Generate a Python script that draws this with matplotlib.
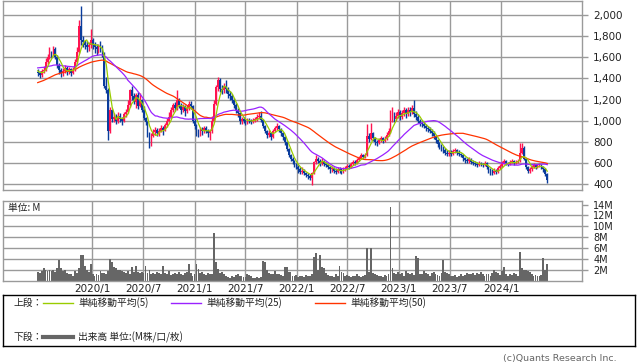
import numpy as np
import pandas as pd
import matplotlib
matplotlib.use('Agg')
import matplotlib.pyplot as plt

W, H = 638, 362

# weekly candles (first week ending 2019-06-21)
start = '2019-06-21'
opens = [
    1460, 1450, 1430, 1470, 1480, 1560, 1600, 1640, 1620, 1680,
    1600, 1530, 1480, 1450, 1470, 1500, 1460, 1490, 1450, 1480,
    1560, 1650, 1900, 1760, 1740, 1720, 1700, 1720, 1760, 1720,
    1700, 1680, 1700, 1690, 1640, 1330, 1290, 900, 1100, 1020,
    1040, 1000, 1050, 1020, 1000, 1060, 1080, 1150, 1290, 1230,
    1180, 1240, 1140, 1200, 1100, 1030, 990, 880, 780, 860,
    890, 910, 880, 900, 930, 910, 960, 1000, 1040, 1100,
    1150, 1120, 1200, 1150, 1100, 1130, 1090, 1120, 1160, 1140,
    1000, 950, 900, 880, 920, 900, 930, 900, 880, 900,
    1000, 1160, 1320, 1390, 1300, 1290, 1330, 1300, 1250, 1230,
    1200, 1150, 1100, 1070, 1000, 1020, 1000, 990, 1010, 1000,
    990, 1010, 1020, 1040, 1050, 1010, 950, 900, 870, 880,
    850, 900, 930, 950, 920, 880, 850, 800, 730, 680,
    640, 620, 580, 560, 540, 520, 530, 510, 490, 480,
    460, 510, 610, 640, 620, 600, 620, 590, 580, 560,
    540, 550, 530, 520, 540, 530, 520, 540, 550, 570,
    560, 590, 610, 600, 630, 650, 680, 660, 680, 860,
    830, 880, 840, 800, 790, 820, 840, 810, 830, 870,
    900, 1000, 1060, 1020, 1050, 1080, 1040, 1070, 1100, 1060,
    1100, 1080, 1120, 1060, 1040, 1000, 980, 970, 950, 930,
    920, 900, 880, 860, 820, 780, 760, 740, 720, 700,
    690, 700, 690, 710, 720, 700, 690, 680, 650, 630,
    620, 640, 610, 600, 590, 580, 600, 590, 580, 600,
    560, 540, 520, 510, 530, 520, 550, 570, 600, 620,
    600, 590, 610, 620, 600, 610, 620, 700, 740, 640,
    560, 530, 540, 560, 580, 560, 570, 580, 560, 540,
    500,
]
closes = [
    1450, 1430, 1470, 1480, 1560, 1600, 1640, 1620, 1680, 1600,
    1530, 1480, 1450, 1470, 1500, 1460, 1490, 1450, 1480, 1560,
    1650, 1900, 1760, 1740, 1720, 1700, 1720, 1760, 1720, 1700,
    1680, 1700, 1690, 1640, 1330, 1290, 900, 1100, 1020, 1040,
    1000, 1050, 1020, 1000, 1060, 1080, 1150, 1290, 1230, 1180,
    1240, 1140, 1200, 1100, 1030, 990, 880, 780, 860, 890,
    910, 880, 900, 930, 910, 960, 1000, 1040, 1100, 1150,
    1120, 1200, 1150, 1100, 1130, 1090, 1120, 1160, 1140, 1000,
    950, 900, 880, 920, 900, 930, 900, 880, 900, 1000,
    1160, 1320, 1390, 1300, 1290, 1330, 1300, 1250, 1230, 1200,
    1150, 1100, 1070, 1000, 1020, 1000, 990, 1010, 1000, 990,
    1010, 1020, 1040, 1050, 1010, 950, 900, 870, 880, 850,
    900, 930, 950, 920, 880, 850, 800, 730, 680, 640,
    620, 580, 560, 540, 520, 530, 510, 490, 480, 460,
    510, 610, 640, 620, 600, 620, 590, 580, 560, 540,
    550, 530, 520, 540, 530, 520, 540, 550, 570, 560,
    590, 610, 600, 630, 650, 680, 660, 680, 860, 830,
    880, 840, 800, 790, 820, 840, 810, 830, 870, 900,
    1000, 1060, 1020, 1050, 1080, 1040, 1070, 1100, 1060, 1100,
    1080, 1120, 1060, 1040, 1000, 980, 970, 950, 930, 920,
    900, 880, 860, 820, 780, 760, 740, 720, 700, 690,
    700, 690, 710, 720, 700, 690, 680, 650, 630, 620,
    640, 610, 600, 590, 580, 600, 590, 580, 600, 560,
    540, 520, 510, 530, 520, 550, 570, 600, 620, 600,
    590, 610, 620, 600, 610, 620, 700, 740, 640, 560,
    530, 540, 560, 580, 560, 570, 580, 560, 540, 500,
    440,
]
highs = [
    1490, 1470, 1490, 1520, 1590, 1630, 1700, 1660, 1710, 1700,
    1620, 1550, 1500, 1500, 1530, 1520, 1510, 1500, 1510, 1580,
    1700, 1950, 2085, 1800, 1760, 1750, 1740, 1870, 1780, 1740,
    1730, 1730, 1750, 1720, 1650, 1410, 1310, 1130, 1110, 1070,
    1060, 1080, 1070, 1040, 1080, 1110, 1200, 1300, 1330, 1260,
    1260, 1270, 1260, 1210, 1140, 1040, 1000, 890, 880, 920,
    940, 930, 930, 960, 950, 980, 1030, 1080, 1130, 1170,
    1180, 1290, 1220, 1170, 1160, 1150, 1150, 1190, 1190, 1150,
    1020, 970, 920, 940, 940, 950, 950, 920, 920, 1050,
    1200, 1340, 1415, 1400, 1340, 1360, 1385, 1320, 1280, 1250,
    1220, 1170, 1120, 1080, 1040, 1040, 1020, 1030, 1030, 1020,
    1030, 1040, 1060, 1080, 1090, 1020, 960, 910, 910, 890,
    920, 950, 980, 960, 930, 890, 860, 810, 740, 690,
    660, 630, 600, 580, 560, 560, 540, 520, 510, 500,
    520, 620, 675, 660, 640, 650, 630, 610, 590, 570,
    570, 560, 550, 560, 560, 550, 560, 570, 590, 590,
    610, 630, 630, 650, 670, 695, 690, 700, 970, 880,
    980, 890, 850, 820, 840, 860, 850, 860, 890, 930,
    1100, 1130, 1080, 1080, 1110, 1100, 1100, 1130, 1120, 1130,
    1130, 1150, 1195, 1090, 1060, 1020, 1000, 990, 970, 950,
    940, 920, 900, 870, 830, 800, 780, 760, 740, 720,
    720, 720, 730, 740, 730, 720, 700, 690, 660, 650,
    660, 650, 630, 620, 610, 620, 610, 600, 620, 610,
    570, 550, 540, 550, 540, 570, 590, 620, 640, 630,
    610, 630, 640, 630, 630, 640, 790, 790, 760, 650,
    570, 560, 580, 600, 590, 590, 600, 590, 570, 550,
    510,
]
lows = [
    1420, 1400, 1410, 1450, 1470, 1540, 1580, 1590, 1610, 1580,
    1500, 1440, 1410, 1420, 1450, 1430, 1440, 1420, 1440, 1470,
    1550, 1640, 1720, 1700, 1680, 1650, 1660, 1690, 1680, 1640,
    1620, 1640, 1650, 1600, 1310, 1260, 820, 880, 990, 990,
    970, 980, 990, 960, 990, 1040, 1070, 1130, 1200, 1160,
    1120, 1110, 1130, 1080, 1010, 960, 850, 745, 760, 850,
    870, 860, 860, 890, 870, 900, 940, 990, 1030, 1080,
    1090, 1100, 1120, 1060, 1080, 1050, 1070, 1100, 1110, 980,
    920, 860, 850, 860, 870, 880, 880, 850, 820, 880,
    990, 1150, 1280, 1270, 1250, 1260, 1260, 1220, 1200, 1170,
    1120, 1070, 1040, 970, 970, 980, 960, 970, 980, 970,
    980, 990, 1000, 1020, 990, 930, 880, 840, 850, 820,
    840, 890, 910, 890, 860, 820, 770, 710, 660, 620,
    590, 560, 540, 510, 500, 500, 490, 470, 450, 440,
    395, 500, 590, 600, 570, 580, 570, 560, 540, 510,
    520, 510, 500, 505, 510, 500, 510, 525, 540, 540,
    550, 580, 580, 590, 620, 640, 640, 650, 670, 800,
    820, 810, 770, 760, 780, 800, 790, 800, 820, 860,
    880, 990, 990, 1000, 1030, 1010, 1020, 1050, 1030, 1050,
    1050, 1060, 1040, 1010, 980, 950, 940, 930, 900, 890,
    880, 860, 830, 790, 750, 730, 710, 700, 680, 670,
    670, 670, 680, 700, 680, 670, 660, 620, 600, 600,
    600, 590, 580, 570, 560, 570, 570, 560, 570, 540,
    510, 490, 490, 500, 500, 510, 540, 560, 590, 580,
    570, 580, 600, 580, 590, 600, 610, 690, 630, 540,
    505, 510, 530, 550, 540, 550, 560, 540, 520, 480,
    410,
]
# weekly volume, M shares
volumes = [
    1.6, 1.5, 1.8, 2.4, 2.0, 1.9, 2.1, 1.8, 2.0, 1.6,
    2.3, 3.8, 2.4, 1.9, 2.0, 1.5, 1.2, 1.3, 1.0, 1.9,
    1.5, 2.4, 4.8, 4.8, 2.8, 2.0, 1.6, 3.2, 1.2, 1.0,
    1.3, 1.1, 1.8, 1.4, 1.5, 1.2, 1.8, 4.0, 3.4, 2.6,
    2.4, 2.0, 2.1, 1.8, 1.6, 1.5, 1.8, 1.3, 2.6, 1.7,
    2.8, 1.6, 1.4, 1.6, 1.5, 2.7, 1.5, 2.0, 1.2, 1.4,
    1.3, 1.6, 1.4, 1.2, 2.8, 1.5, 1.3, 1.8, 1.1, 1.2,
    1.5, 1.3, 1.6, 1.2, 1.1, 1.4, 1.7, 3.1, 1.5, 0.9,
    1.2, 3.2, 2.2, 1.4, 1.7, 1.2, 1.1, 1.5, 1.3, 1.2,
    8.8, 3.4, 2.2, 1.5, 1.6, 1.3, 1.0, 0.7, 0.6, 0.9,
    0.8, 1.1, 1.3, 0.9, 1.0, 0.8, 0.7, 1.2, 1.1, 0.9,
    0.6, 0.5, 0.7, 0.6, 0.7, 3.6, 3.4, 2.0, 1.4, 1.3,
    1.2, 1.8, 1.2, 1.3, 1.1, 1.0, 2.6, 2.6, 1.7, 1.6,
    1.0, 0.9, 1.1, 0.8, 1.0, 0.9, 0.8, 1.1, 0.9, 1.0,
    1.2, 4.4, 5.1, 2.0, 4.7, 2.6, 2.4, 1.5, 1.1, 0.9,
    1.0, 0.8, 1.2, 1.0, 2.7, 1.6, 1.4, 0.9, 1.1, 1.0,
    0.8, 1.0, 0.9, 1.2, 1.0, 0.8, 0.9, 1.1, 6.1, 1.6,
    6.1, 1.5, 1.2, 1.1, 0.9, 1.0, 0.8, 1.1, 1.0, 1.2,
    13.5, 2.4, 1.5, 1.2, 1.6, 1.3, 1.5, 1.0, 1.8, 1.4,
    1.2, 1.5, 1.1, 4.5, 4.3, 1.3, 1.2, 1.8, 1.5, 1.3,
    1.0, 1.4, 1.6, 1.3, 1.1, 1.0, 1.4, 3.9, 1.7, 1.5,
    1.3, 1.0, 0.9, 1.1, 0.8, 1.0, 1.2, 0.9, 1.1, 1.4,
    1.3, 1.2, 1.5, 1.1, 1.4, 1.2, 1.6, 1.3, 1.0, 1.2,
    1.3, 1.0, 1.5, 2.0, 1.7, 1.4, 1.1, 1.9, 2.6, 1.2,
    1.0, 1.3, 1.1, 1.5, 1.2, 1.0, 5.3, 2.4, 2.0, 2.1,
    1.8, 1.6, 1.2, 1.0, 1.1, 0.9, 1.0, 1.1, 4.2, 2.0,
    3.1,
]
# closes of the 49 weeks before the first candle, used only for the averages
pre_closes = [
    1100, 1120, 1150, 1130, 1160, 1180, 1150, 1170, 1200, 1220,
    1190, 1210, 1230, 1250, 1220, 1240, 1260, 1280, 1250, 1270,
    1290, 1300, 1320, 1310, 1340,
    1380, 1420, 1460, 1500, 1480, 1520, 1550, 1530, 1560, 1540,
    1520, 1550, 1530, 1510, 1540, 1520, 1500, 1530, 1510, 1490,
    1500, 1480, 1470, 1460,
]
grid_dates = ['2020-01-01', '2020-07-01', '2021-01-01', '2021-07-01', '2022-01-01',
              '2022-07-01', '2023-01-01', '2023-07-01', '2024-01-01']
grid_labels = ['2020/1', '2020/7', '2021/1', '2021/7', '2022/1',
               '2022/7', '2023/1', '2023/7', '2024/1']
price_ticks = [400, 600, 800, 1000, 1200, 1400, 1600, 1800, 2000]
vol_ticks = [2, 4, 6, 8, 10, 12, 14]

RED = '#ff1450'
BLUE = '#0a3c9c'
GRID = '#9a9a9a'
CJK = ['Noto Sans CJK JP', 'DejaVu Sans']

dates = pd.date_range(start, periods=len(closes), freq='7D')
o = np.array(opens, float)
c = np.array(closes, float)
hi = np.array(highs, float)
lo = np.array(lows, float)
cols = np.where(c >= o, RED, BLUE)

allc = pd.Series(pre_closes + closes, dtype=float)
n0 = len(pre_closes)
ma5 = allc.rolling(5).mean().values[n0:]
ma25 = allc.rolling(25).mean().values[n0:]
ma50 = allc.rolling(50).mean().values[n0:]


def box(l, t, r, b):
    return [l / W, (H - b) / H, (r - l) / W, (b - t) / H]


fig = plt.figure(figsize=(W / 100, H / 100), dpi=100)
fig.patch.set_facecolor('white')

x0 = pd.Timestamp('2019-02-17')
x1 = pd.Timestamp('2024-10-16')
gd = pd.to_datetime(grid_dates)

# price panel
ax = fig.add_axes(box(3, 1, 582, 190))
ax.vlines(dates, lo, hi, colors=cols, lw=1.0, zorder=2)
ax.bar(dates, np.maximum(np.abs(c - o), 8), bottom=np.minimum(o, c), width=6.3,
       color=cols, linewidth=0, zorder=2)
ax.plot(dates, ma50, color='#ff3300', lw=0.9, zorder=3)
ax.plot(dates, ma25, color='#9a22ff', lw=0.9, zorder=3)
ax.plot(dates, ma5, color='#99cc00', lw=0.9, zorder=4)
ax.set_xlim(x0, x1)
ax.set_ylim(346, 2132)
ax.set_yticks(price_ticks)
ax.set_yticklabels([f'{v:,}' for v in price_ticks], fontsize=7.5, color='#222222')
ax.set_xticks(gd)
ax.set_xticklabels([])

# volume panel
av = fig.add_axes(box(3, 201, 582, 281))
av.bar(dates, volumes, width=6.6, color='#666666', linewidth=0, zorder=2)
av.set_xlim(x0, x1)
av.set_ylim(0, 14.65)
av.set_yticks(vol_ticks)
av.set_yticklabels([f'{v}M' for v in vol_ticks], fontsize=7, color='#222222')
av.set_xticks(gd)
av.set_xticklabels(grid_labels, fontsize=7.5, color='#222222')
av.text(5 / 579, 0.97, '単位: M', transform=av.transAxes, fontsize=7,
        family=CJK, va='top', ha='left', color='#222222')

for a in (ax, av):
    a.set_facecolor('white')
    a.set_axisbelow(True)
    a.grid(True, color=GRID, lw=1)
    a.yaxis.tick_right()
    a.tick_params(axis='y', length=4, width=1, color=GRID, pad=4)
    a.tick_params(axis='x', length=0, pad=2)
    for s in a.spines.values():
        s.set_color(GRID)
        s.set_linewidth(1)
av.get_ygridlines()[-1].set_visible(False)

# legend box
lg = fig.add_axes(box(3, 295, 635, 346))
lg.set_xlim(3, 635)
lg.set_ylim(346, 295)
lg.set_xticks([])
lg.set_yticks([])
for s in lg.spines.values():
    s.set_color('black')
    s.set_linewidth(1)

row1, row2 = 303, 337
lg.text(13, row1, '上段：', fontsize=7, family=CJK, va='center', color='#222222')
lg.text(13, row2, '下段：', fontsize=7, family=CJK, va='center', color='#222222')
for (xa, xb), col, label in [((43, 73), '#99cc00', '単純移動平均(5)'),
                              ((171, 201), '#9a22ff', '単純移動平均(25)'),
                              ((315, 345), '#ff3300', '単純移動平均(50)')]:
    lg.plot([xa, xb], [row1, row1], color=col, lw=1)
    lg.text(xb + 5, row1, label, fontsize=7, family=CJK, va='center', color='#222222')
lg.plot([43, 73], [row2, row2], color='#666666', lw=3)
lg.text(78, row2, '出来高 単位:(M株/口/枚)', fontsize=7, family=CJK, va='center',
        color='#222222')

fig.text(617 / W, (H - 358) / H, '(c)Quants Research Inc.', fontsize=6.8,
         ha='right', va='center', color='#666666')

fig.savefig('out.png', dpi=100)
